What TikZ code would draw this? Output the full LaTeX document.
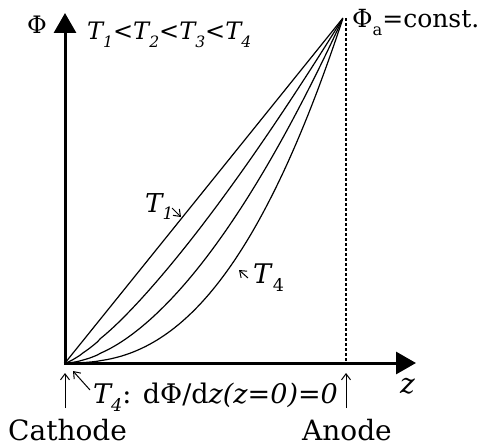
\documentclass[tikz,border=0pt]{standalone}
\usepackage{fontspec}
\usepackage{graphicx}
\setmainfont{DejaVu Serif}
\usetikzlibrary{arrows.meta}
\newcommand{\sbx}[1]{\raisebox{-0.3em}{\scalebox{0.65}{#1}}}
\newcommand{\fs}[1]{\fontsize{#1}{#1}\selectfont}
\tikzset{
  axisline/.style={line width=3pt,-{Triangle[length=20pt,width=22pt]}},
  curveline/.style={line width=1.2pt},
  pointer/.style={line width=1pt,-{Straight Barb[length=6pt,width=9pt]}},
  lbl/.style={inner sep=0pt,anchor=base west},
}
\begin{document}
\begin{tikzpicture}[x=1pt,y=-1pt]
\useasboundingbox (0,0) rectangle (486,446);
\coordinate (O) at (65,363);
\coordinate (A) at (343,18);
\coordinate (Ytip) at (65,13);
\coordinate (Xtip) at (416,363);
\coordinate (Dtop) at (346,18);
\coordinate (Dbot) at (346,363);
% dotted anode line
\draw[line width=2pt,dash pattern=on 3pt off 2pt] (Dtop) -- (Dbot);
% curves
\draw[curveline] (O) -- (A);
\draw[curveline] (O) -- plot[domain=0.002:1,samples=80] ({65+278*\x},{363-345*(\x^1.3)});
\draw[curveline] (O) -- plot[domain=0.002:1,samples=80] ({65+278*\x},{363-345*(\x^1.75)});
\draw[curveline] (O) -- plot[domain=0.002:1,samples=80] ({65+278*\x},{363-345*(\x^2.45)});
% axes
\draw[axisline] ([yshift=1.5pt]O) -- (Ytip);
\draw[axisline] ([xshift=-1.5pt]O) -- (Xtip);
% labels
\node[inner sep=0pt] (phi) at (37,25) {\fs{24}Φ};
\node[lbl] (order) at (87,40) {\fs{24}\textit{T\sbx{1}<T\sbx{2}<T\sbx{3}<T\sbx{4}}};
\node[lbl] (phia) at (352,28) {\fs{25}Φ\sbx{a}=const.};
\node[lbl] (zl) at (400,393) {\fs{28}\textit{z}};
\node[lbl] (t1) at (145,212) {\fs{26}\textit{T\sbx{1}}};
\node[lbl] (t4) at (253,283) {\fs{27}\textit{T}\sbx{4}};
\node[lbl] (cond) at (93,403) {\fs{27}\textit{T\sbx{4}}: dΦ/d\textit{z(z=}\textit{0)=0}};
\node[lbl] (cath) at (8,440) {\fs{28}Cathode};
\node[lbl] (anod) at (302,440) {\fs{28}Anode};
% pointer arrows
\coordinate (p1s) at (172,208); \coordinate (p1e) at (181,217);
\coordinate (p4s) at (248,278); \coordinate (p4e) at (239,270);
\coordinate (cs) at (65,408); \coordinate (ce) at (65,373);
\coordinate (ds) at (90,390); \coordinate (de) at (73,371);
\coordinate (as) at (346,408); \coordinate (ae) at (346,373);
\draw[pointer] (p1s) -- (p1e);
\draw[pointer] (p4s) -- (p4e);
\draw[pointer] (cs) -- (ce);
\draw[pointer] (ds) -- (de);
\draw[pointer] (as) -- (ae);
\end{tikzpicture}
\end{document}
